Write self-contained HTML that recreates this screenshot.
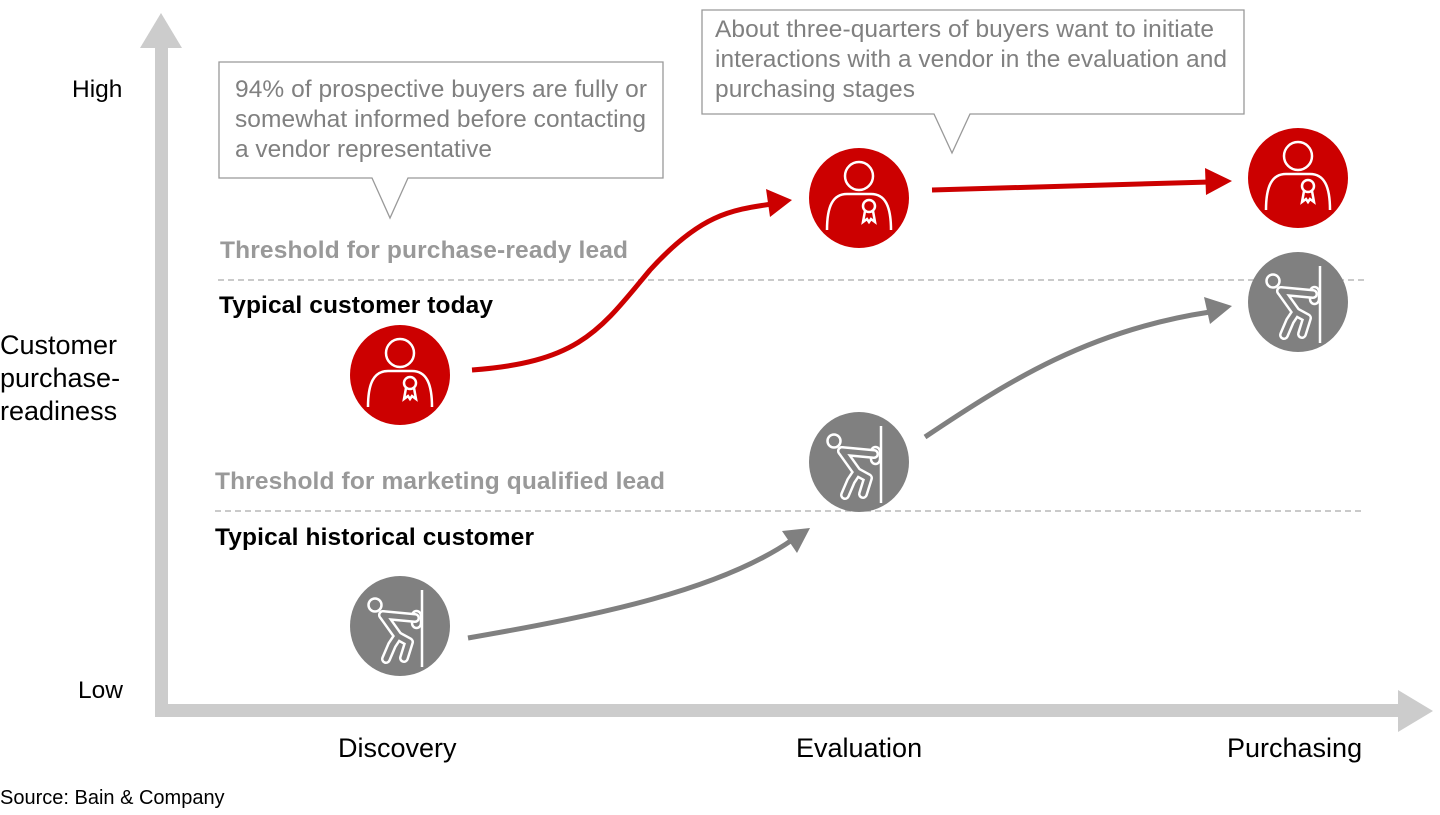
<!DOCTYPE html>
<html><head><meta charset="utf-8"><style>
body{margin:0;background:#fff;}
svg text{font-family:"Liberation Sans",Arial,sans-serif;}
</style></head><body>
<svg width="1440" height="810" viewBox="0 0 1440 810" xmlns="http://www.w3.org/2000/svg">
<defs>
<g id="person" fill="none" stroke="#fff" stroke-width="2.5">
<circle cx="0" cy="-22" r="14"/>
<path d="M-32 32 C-32 8 -26 -4 -12 -4 L12 -4 C26 -4 32 8 32 32"/>
<circle cx="10" cy="8" r="6"/>
<path d="M6 13 L4 24 L8 21 L10 24 L12 21 L16 24 L14 13"/>
</g>
<g id="limbs">
<path d="M-17 -11 L15 -8"/>
<path d="M-17 -11 L-2 10"/>
<path d="M-2 10 L9 16 L4 32"/>
<path d="M-2 10 L-8 19 L-14 33"/>
</g>
<g id="pusher">
<line x1="22" y1="-36" x2="22" y2="41" stroke="#fff" stroke-width="2.5"/>
<rect x="12" y="-15" width="9" height="17" rx="5" fill="#808080" stroke="#fff" stroke-width="2.5"/>
<use href="#limbs" fill="none" stroke="#fff" stroke-width="10" stroke-linecap="round" stroke-linejoin="round"/>
<use href="#limbs" fill="none" stroke="#808080" stroke-width="5" stroke-linecap="round" stroke-linejoin="round"/>
<circle cx="-25" cy="-21" r="6.5" fill="#808080" stroke="#fff" stroke-width="2.5"/>
</g>
</defs>

<rect x="155" y="46" width="13" height="670" fill="#cccccc"/>
<polygon points="140,48 182,48 161,13" fill="#cccccc"/>
<rect x="155" y="704" width="1245" height="13" fill="#cccccc"/>
<polygon points="1398,690 1398,732 1433,711" fill="#cccccc"/>

<line x1="218" y1="280" x2="1365" y2="280" stroke="#aaa" stroke-width="1.3" stroke-dasharray="6,4"/>
<line x1="215" y1="511" x2="1365" y2="511" stroke="#aaa" stroke-width="1.3" stroke-dasharray="6,4"/>

<g font-size="24.5" fill="#000">
<text x="72" y="97">High</text>
<text x="78" y="698">Low</text>
</g>
<g font-size="27" fill="#000">
<text x="0" y="354">Customer</text>
<text x="0" y="387">purchase-</text>
<text x="0" y="420">readiness</text>
<text x="338" y="757">Discovery</text>
<text x="796" y="757">Evaluation</text>
<text x="1227" y="757">Purchasing</text>
</g>
<text x="0" y="804" font-size="20" fill="#000">Source: Bain &amp; Company</text>
<g font-size="24.5" font-weight="bold">
<text x="220" y="258" fill="#999" textLength="408">Threshold for purchase-ready lead</text>
<text x="219" y="313" fill="#000" textLength="274">Typical customer today</text>
<text x="215" y="489" fill="#999" textLength="450">Threshold for marketing qualified lead</text>
<text x="215" y="545" fill="#000" textLength="319">Typical historical customer</text>
</g>

<path d="M219 62 H663 V178 H408 L390 218 L372 178 H219 Z" fill="#fff" stroke="#999" stroke-width="1.3"/>
<g font-size="24.5" fill="#808080">
<text x="235" y="97" textLength="412">94% of prospective buyers are fully or</text>
<text x="235" y="127" textLength="411">somewhat informed before contacting</text>
<text x="235" y="157" textLength="257">a vendor representative</text>
</g>
<path d="M702 10 H1244 V114 H970 L952 153 L934 114 H702 Z" fill="#fff" stroke="#999" stroke-width="1.3"/>
<g font-size="24.5" fill="#808080">
<text x="715" y="37" textLength="499">About three-quarters of buyers want to initiate</text>
<text x="715" y="67" textLength="512">interactions with a vendor in the evaluation and</text>
<text x="715" y="97" textLength="200">purchasing stages</text>
</g>

<g fill="none" stroke-width="5">
<path d="M472 370 C580 362 600 330 650 270 C700 215 730 210 772 204" stroke="#cc0000"/>
<path d="M932 190 L1210 182" stroke="#cc0000"/>
<path d="M468 638 C600 615 720 590 792 540" stroke="#808080"/>
<path d="M925 437 C1010 380 1090 330 1210 312" stroke="#808080"/>
</g>
<polygon points="792,200 766,189 770,217" fill="#cc0000"/>
<polygon points="1232,181 1205,168 1206,195" fill="#cc0000"/>
<polygon points="810,528 782,531 797,553" fill="#808080"/>
<polygon points="1232,306 1204,297 1210,324" fill="#808080"/>

<circle cx="400" cy="375" r="50" fill="#cc0000"/><use href="#person" x="400" y="375"/>
<circle cx="859" cy="198" r="50" fill="#cc0000"/><use href="#person" x="859" y="198"/>
<circle cx="1298" cy="178" r="50" fill="#cc0000"/><use href="#person" x="1298" y="178"/>
<circle cx="1298" cy="302" r="50" fill="#808080"/><use href="#pusher" x="1298" y="302"/>
<circle cx="859" cy="462" r="50" fill="#808080"/><use href="#pusher" x="859" y="462"/>
<circle cx="400" cy="626" r="50" fill="#808080"/><use href="#pusher" x="400" y="626"/>
</svg>
</body></html>
